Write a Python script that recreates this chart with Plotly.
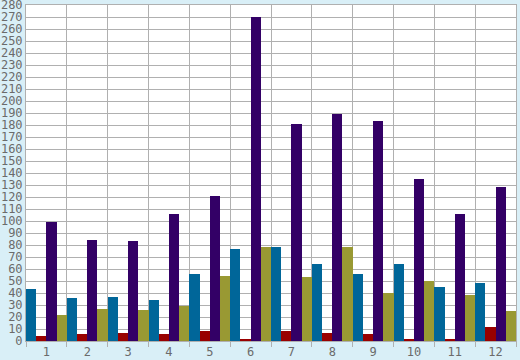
import plotly.graph_objects as go

categories = [str(i) for i in range(1, 13)]
blue_vals = [43, 36, 37, 34, 56, 77, 78, 64, 56, 64, 45, 48]
red_vals = [4, 6, 7, 5.5, 8, 1.5, 8, 6.5, 5.5, 2, 2, 12]
purple_vals = [99, 84, 83, 106, 121, 270, 181, 189, 183, 135, 106, 128]
olive_vals = [22, 27, 25.5, 29, 54.5, 78, 53, 78, 40, 50, 38, 25]
y_ticks = list(range(0, 281, 10))

series = [
    ("Blue", blue_vals, "#006699"),
    ("Red", red_vals, "#990000"),
    ("Purple", purple_vals, "#330066"),
    ("Olive", olive_vals, "#999933"),
]

fig = go.Figure()
for name, vals, col in series:
    fig.add_trace(go.Bar(x=categories, y=vals, name=name,
                         marker=dict(color=col, line=dict(width=0))))

grid = "#b0b0b0"
font = dict(family="DejaVu Sans Mono", size=12, color="#6b6b6b")
fig.update_layout(
    width=520, height=360,
    margin=dict(l=26, r=4, t=5, b=19, pad=0, autoexpand=False),
    paper_bgcolor="#d9eff7",
    plot_bgcolor="#ffffff",
    barmode="group", bargap=0, bargroupgap=0,
    showlegend=False,
    font=font,
    xaxis=dict(type="category", tickson="boundaries", showgrid=True,
               gridcolor=grid, gridwidth=1, ticks="outside", ticklen=5,
               tickcolor=grid, showline=True, linecolor=grid, mirror=True,
               tickfont=font, automargin=False, ticklabeloverflow="allow"),
    yaxis=dict(range=[0, 280], tickvals=y_ticks, showgrid=True,
               gridcolor=grid, gridwidth=1, ticks="", showline=True,
               linecolor=grid, mirror=True, zeroline=False, tickfont=font,
               ticklabelstandoff=0, automargin=False,
               ticklabeloverflow="allow"),
)

fig.write_html("out.html",
               config={"displayModeBar": False, "staticPlot": True},
               post_script="document.body.style.margin='0';document.body.style.background='#d9eff7';")
